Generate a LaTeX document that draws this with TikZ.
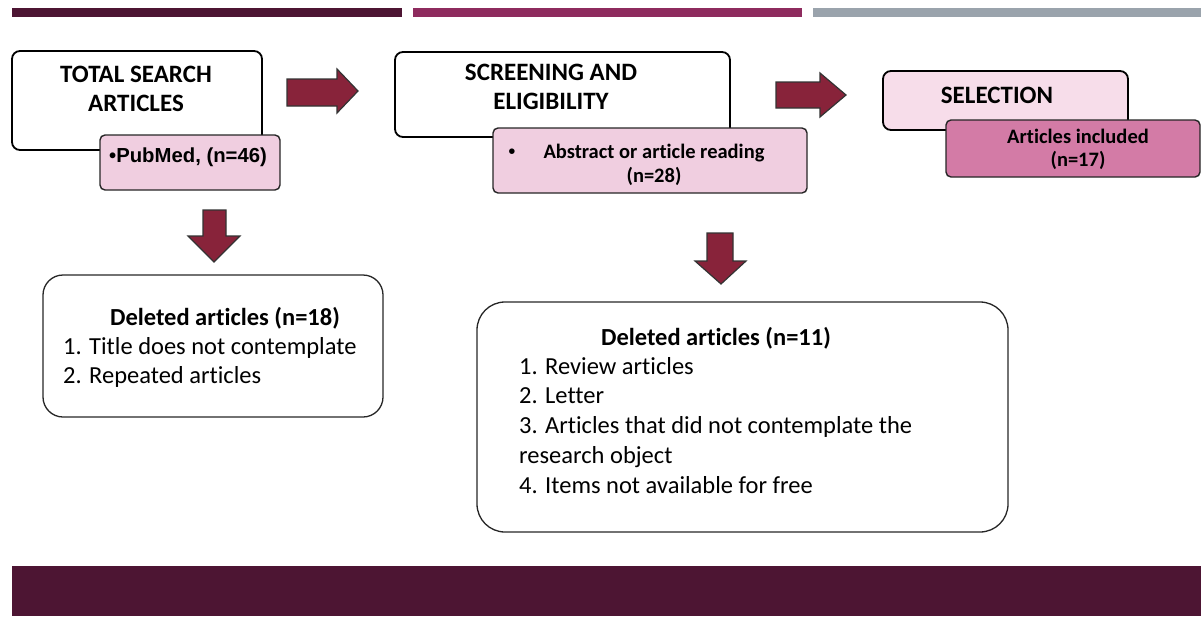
\documentclass[tikz,border=0pt]{standalone}
\usepackage{fontspec}
\setmainfont{Carlito}[Ligatures=NoCommon]
\newfontfamily\arialf{Liberation Sans}
\definecolor{plum}{HTML}{4D1533}
\definecolor{magplum}{HTML}{8E2B5E}
\definecolor{bargray}{HTML}{9AA3AC}
\definecolor{arrowred}{HTML}{88233A}
\definecolor{pinkA}{HTML}{F0CEE0}
\definecolor{pinkB}{HTML}{F7DDEA}
\definecolor{pinkC}{HTML}{D37BA6}
\begin{document}
\begin{tikzpicture}[x=1pt,y=-1pt,
  stagebox/.style={draw=black,line width=1.8pt,rounded corners=8pt,inner sep=0pt},
  subbox/.style={draw=black!85,line width=1.4pt,rounded corners=5pt,inner sep=0pt},
  delbox/.style={draw=black!85,line width=1.3pt,inner sep=0pt},
  blockarrow/.style={fill=arrowred,draw=black!80,line width=1.2pt,line join=miter},
  bigtitle/.style={font=\fontsize{25}{30}\selectfont\bfseries,inner sep=0pt,anchor=base},
  deltitle/.style={font=\fontsize{24.5}{30}\selectfont\bfseries,inner sep=0pt,anchor=base},
  smalltitle/.style={font=\fontsize{20.5}{24}\selectfont\bfseries,inner sep=0pt,anchor=base},
  listline/.style={font=\fontsize{24.5}{30}\selectfont,inner sep=0pt,anchor=base west},
]
\useasboundingbox (0,0) rectangle (1201,616);
% top bars and bottom band
\fill[plum] (12,8) rectangle (402,17);
\fill[magplum] (413,8) rectangle (802,17);
\fill[bargray] (813,8) rectangle (1201,17);
\fill[plum] (12,566) rectangle (1201,616);

% stage 1
\node[stagebox,minimum width=250pt,minimum height=99pt] (total) at (137,100.5) {};
\node[subbox,fill=pinkA,minimum width=180pt,minimum height=55pt] (pubmed) at (190,162.5) {};
\node[bigtitle] (t1a) at (136,82.5) {TOTAL SEARCH};
\node[bigtitle] (t1b) at (136,111.5) {ARTICLES};
\node[font=\fontsize{20.3}{24}\selectfont\arialf\bfseries,inner sep=0pt,anchor=base west] (pm) at (109,162.5) {\textbullet PubMed, (n=46)};

% stage 2
\node[stagebox,minimum width=335pt,minimum height=85pt] (screen) at (562.5,94.5) {};
\node[subbox,fill=pinkA,minimum width=314pt,minimum height=65pt] (abstract) at (650,160.5) {};
\node[bigtitle] (t2a) at (551,80.5) {SCREENING AND};
\node[bigtitle] (t2b) at (551,109.5) {ELIGIBILITY};
\node[font=\fontsize{20.5}{24}\selectfont\arialf,inner sep=0pt,anchor=base] (bul) at (512,158.5) {\textbullet};
\node[smalltitle] (ab1) at (654,158.5) {Abstract or article reading};
\node[smalltitle] (ab2) at (654,182.5) {(n=28)};

% stage 3
\node[stagebox,fill=pinkB,minimum width=245pt,minimum height=59pt] (select) at (1005.5,100.5) {};
\node[subbox,fill=pinkC,minimum width=254pt,minimum height=57pt] (included) at (1073,148.5) {};
\node[bigtitle] (t3) at (997,103.5) {SELECTION};
\node[smalltitle] (in1) at (1078,143.5) {Articles included};
\node[smalltitle] (in2) at (1078,166.5) {(n=17)};

% deleted boxes
\node[delbox,rounded corners=20pt,minimum width=340pt,minimum height=142pt] (del1) at (213,346) {};
\node[deltitle] (d1t) at (225,325) {Deleted articles (n=18)};
\node[listline] (d1a) at (63,354) {1. Title does not contemplate};
\node[listline] (d1b) at (63,383) {2. Repeated articles};

\node[delbox,rounded corners=28pt,minimum width=531pt,minimum height=230pt] (del2) at (742.5,417) {};
\node[deltitle] (d2t) at (716,345) {Deleted articles (n=11)};
\node[listline] (d2a) at (519,374) {1. Review articles};
\node[listline] (d2b) at (519,403) {2. Letter};
\node[listline] (d2c) at (519,433) {3. Articles that did not contemplate the};
\node[listline] (d2d) at (519,463) {research object};
\node[listline] (d2e) at (519,493) {4. Items not available for free};

% block arrows
\draw[blockarrow] (287,79) -- (337,79) -- (337,69) -- (358,91) -- (337,113) -- (337,106) -- (287,106) -- cycle;
\draw[blockarrow] (776,82) -- (820,82) -- (820,73) -- (846,95) -- (820,117) -- (820,108) -- (776,108) -- cycle;
\draw[blockarrow] (203,210) -- (226,210) -- (226,236) -- (240,236) -- (214,262) -- (188,236) -- (203,236) -- cycle;
\draw[blockarrow] (707,233) -- (733,233) -- (733,261) -- (746,261) -- (721,284) -- (695,261) -- (707,261) -- cycle;
\end{tikzpicture}
\end{document}
